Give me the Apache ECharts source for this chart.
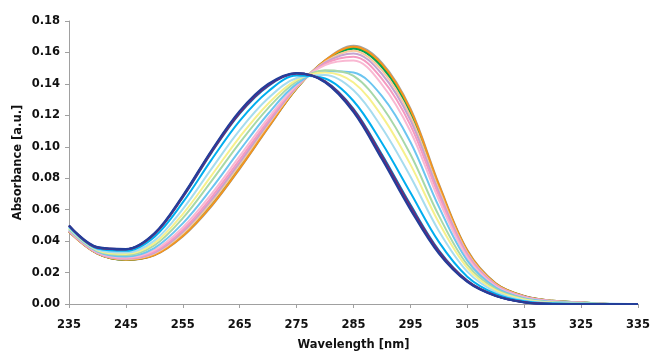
<!DOCTYPE html>
<html>
<head>
<meta charset="utf-8">
<script src="https://cdn.jsdelivr.net/npm/echarts@6/dist/echarts.min.js"></script>
<style>
  html, body { margin: 0; padding: 0; background: #fff; }
  #chart { width: 653px; height: 356px; }
</style>
</head>
<body>
<div id="chart"></div>
<script>
// wavelengths (nm)
var wavelengths = [235, 240, 245, 250, 255, 260, 265, 270, 275, 280, 285, 290, 295, 300, 305, 310, 315, 320, 325, 330, 335];

// absorbance spectra
var navy      = [0.0500, 0.0362, 0.0350, 0.0450, 0.0690, 0.0975, 0.1228, 0.1400, 0.1470, 0.1410, 0.1220, 0.0920, 0.0600, 0.0320, 0.0140, 0.0050, 0.0010, 0.0000, 0.0000, 0.0000, 0.0000];
var purple    = [0.0499, 0.0360, 0.0349, 0.0447, 0.0685, 0.0970, 0.1222, 0.1394, 0.1468, 0.1413, 0.1228, 0.0932, 0.0613, 0.0329, 0.0144, 0.0052, 0.0011, 0.0000, 0.0000, 0.0000, 0.0000];
var maroon    = [0.0499, 0.0359, 0.0348, 0.0445, 0.0682, 0.0966, 0.1218, 0.1392, 0.1467, 0.1414, 0.1233, 0.0938, 0.0619, 0.0333, 0.0146, 0.0052, 0.0011, 0.0000, 0.0000, 0.0000, 0.0000];
var teal      = [0.0498, 0.0358, 0.0347, 0.0443, 0.0678, 0.0960, 0.1211, 0.1386, 0.1465, 0.1417, 0.1241, 0.0951, 0.0632, 0.0342, 0.0150, 0.0054, 0.0012, 0.0001, 0.0000, 0.0000, 0.0000];
var cyan      = [0.0493, 0.0353, 0.0338, 0.0427, 0.0646, 0.0915, 0.1165, 0.1352, 0.1453, 0.1434, 0.1291, 0.1024, 0.0709, 0.0395, 0.0174, 0.0064, 0.0017, 0.0003, 0.0002, 0.0000, 0.0000];
var paleBlue  = [0.0487, 0.0347, 0.0327, 0.0403, 0.0604, 0.0858, 0.1106, 0.1308, 0.1437, 0.1456, 0.1359, 0.1121, 0.0811, 0.0465, 0.0206, 0.0076, 0.0023, 0.0007, 0.0003, 0.0000, 0.0000];
var yellow    = [0.0482, 0.0342, 0.0318, 0.0387, 0.0572, 0.0815, 0.1062, 0.1274, 0.1425, 0.1473, 0.1409, 0.1195, 0.0888, 0.0518, 0.0230, 0.0086, 0.0028, 0.0009, 0.0005, 0.0000, 0.0000];
var lightGreen= [0.0478, 0.0338, 0.0311, 0.0373, 0.0546, 0.0780, 0.1025, 0.1246, 0.1415, 0.1487, 0.1451, 0.1256, 0.0952, 0.0562, 0.0250, 0.0094, 0.0032, 0.0011, 0.0006, 0.0000, 0.0000];
var skyBlue   = [0.0473, 0.0333, 0.0302, 0.0356, 0.0513, 0.0733, 0.0977, 0.1210, 0.1400, 0.1482, 0.1472, 0.1322, 0.1030, 0.0619, 0.0276, 0.0104, 0.0037, 0.0014, 0.0007, 0.0001, 0.0000];
var lightPink = [0.0469, 0.0329, 0.0295, 0.0342, 0.0487, 0.0698, 0.0940, 0.1182, 0.1392, 0.1519, 0.1548, 0.1396, 0.1099, 0.0663, 0.0296, 0.0112, 0.0041, 0.0016, 0.0008, 0.0000, 0.0000];
var pink      = [0.0466, 0.0326, 0.0291, 0.0333, 0.0471, 0.0677, 0.0918, 0.1165, 0.1386, 0.1528, 0.1573, 0.1432, 0.1138, 0.0690, 0.0308, 0.0117, 0.0044, 0.0017, 0.0008, 0.0000, 0.0000];
var lavender  = [0.0464, 0.0324, 0.0288, 0.0325, 0.0459, 0.0660, 0.0901, 0.1151, 0.1381, 0.1535, 0.1594, 0.1463, 0.1170, 0.0712, 0.0318, 0.0121, 0.0046, 0.0018, 0.0009, 0.0000, 0.0000];
var tan       = [0.0463, 0.0323, 0.0285, 0.0320, 0.0448, 0.0645, 0.0886, 0.1140, 0.1377, 0.1540, 0.1611, 0.1487, 0.1195, 0.0729, 0.0326, 0.0124, 0.0047, 0.0019, 0.0009, 0.0000, 0.0000];
var green     = [0.0462, 0.0322, 0.0283, 0.0316, 0.0441, 0.0634, 0.0875, 0.1131, 0.1374, 0.1544, 0.1623, 0.1506, 0.1214, 0.0742, 0.0332, 0.0127, 0.0048, 0.0019, 0.0010, 0.0000, 0.0000];
var darkGreen = [0.0461, 0.0321, 0.0281, 0.0313, 0.0436, 0.0627, 0.0867, 0.1126, 0.1372, 0.1547, 0.1630, 0.1516, 0.1225, 0.0750, 0.0336, 0.0128, 0.0049, 0.0020, 0.0010, 0.0000, 0.0000];
var orange    = [0.0460, 0.0320, 0.0281, 0.0311, 0.0433, 0.0624, 0.0864, 0.1123, 0.1371, 0.1549, 0.1637, 0.1526, 0.1236, 0.0757, 0.0339, 0.0130, 0.0050, 0.0020, 0.0010, 0.0000, 0.0000];
var gray      = [0.0460, 0.0320, 0.0280, 0.0310, 0.0430, 0.0620, 0.0860, 0.1120, 0.1370, 0.1550, 0.1642, 0.1534, 0.1244, 0.0764, 0.0343, 0.0132, 0.0051, 0.0020, 0.0010, 0.0000, 0.0000];

// drawing order: bottom first
var spectra = [
  ['gray', gray, '#a3a3a3'],
  ['darkGreen', darkGreen, '#3a8f3a'],
  ['green', green, '#00a651'],
  ['orange', orange, '#f7941d'],
  ['tan', tan, '#f9c89b'],
  ['lavender', lavender, '#c5a3d0'],
  ['pink', pink, '#f49ac1'],
  ['lightPink', lightPink, '#f9b8d2'],
  ['skyBlue', skyBlue, '#6cc5f0'],
  ['lightGreen', lightGreen, '#a8d8a8'],
  ['yellow', yellow, '#f7f08c'],
  ['paleBlue', paleBlue, '#a6dcef'],
  ['cyan', cyan, '#00aeef'],
  ['teal', teal, '#0d6fb8'],
  ['maroon', maroon, '#9b1c3c'],
  ['purple', purple, '#5c2d91'],
  ['navy', navy, '#233e99']
];

var font = 'DejaVu Sans, Liberation Sans, sans-serif';

var chart = echarts.init(document.getElementById('chart'), null, { renderer: 'canvas' });

chart.setOption({
  animation: false,
  grid: { left: 69, right: 12, top: 21, bottom: 52 },
  xAxis: {
    type: 'value',
    min: 235,
    max: 335,
    interval: 10,
    name: 'Wavelength [nm]',
    nameLocation: 'middle',
    nameGap: 35,
    nameMoveOverlap: false,
    nameTextStyle: { fontFamily: font, fontWeight: 'bold', fontSize: 11.5, color: '#111' },
    axisLine: { lineStyle: { color: '#a0a0a0', width: 1 } },
    axisTick: { show: true, length: 4, lineStyle: { color: '#a0a0a0' } },
    axisLabel: { fontFamily: font, fontWeight: 'bold', fontSize: 11.5, color: '#111', margin: 15 },
    splitLine: { show: false }
  },
  yAxis: {
    type: 'value',
    min: 0,
    max: 0.18,
    interval: 0.02,
    name: 'Absorbance [a.u.]',
    nameLocation: 'middle',
    nameGap: 45,
    nameMoveOverlap: false,
    nameTextStyle: { fontFamily: font, fontWeight: 'bold', fontSize: 11.5, color: '#111' },
    axisLine: { show: true, lineStyle: { color: '#a0a0a0', width: 1 } },
    axisTick: { show: true, length: 4, lineStyle: { color: '#a0a0a0' } },
    axisLabel: {
      fontFamily: font, fontWeight: 'bold', fontSize: 11.5, color: '#111', margin: 9,
      formatter: function (v) { return v.toFixed(2); }
    },
    splitLine: { show: false }
  },
  series: spectra.map(function (s) {
    return {
      name: s[0],
      type: 'line',
      smooth: 0.35,
      showSymbol: false,
      lineStyle: { color: s[2], width: 2 },
      data: wavelengths.map(function (w, i) { return [w, s[1][i]]; })
    };
  })
});
</script>
</body>
</html>
